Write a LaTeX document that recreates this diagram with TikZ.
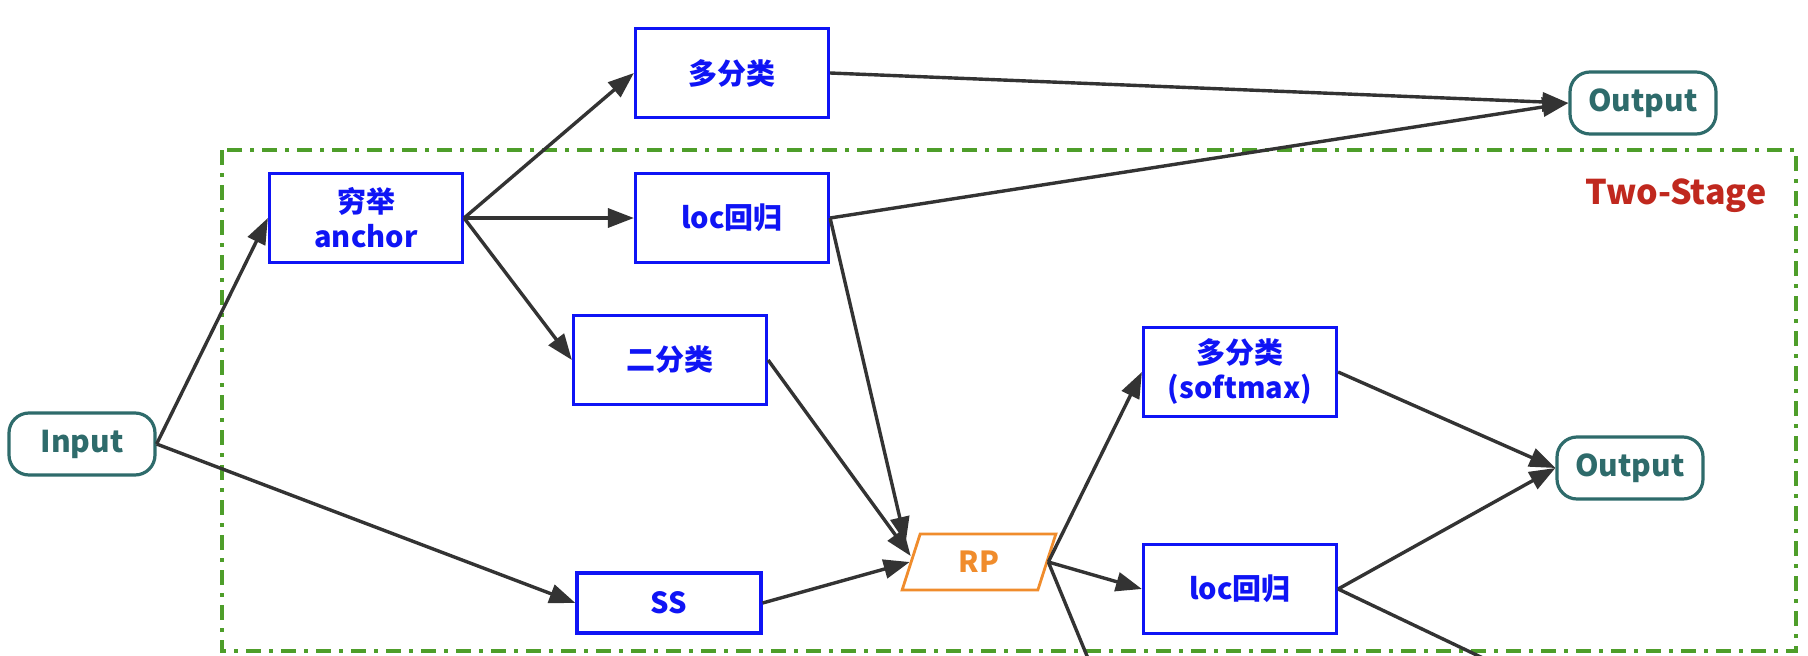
\documentclass[tikz,border=0pt]{standalone}
\usepackage{fontspec}
\setmainfont{Noto Sans CJK SC}
\usetikzlibrary{arrows.meta,shapes.geometric,calc}
\definecolor{boxblue}{HTML}{0F14F5}
\definecolor{ioteal}{HTML}{2E6B6B}
\definecolor{rporange}{HTML}{F08C2C}
\definecolor{stagered}{HTML}{C0281E}
\definecolor{dashgreen}{HTML}{4E9E2A}
\definecolor{arrowgray}{HTML}{333333}
\tikzset{
  bluebox/.style={draw=boxblue, line width=3.2pt, text=boxblue, font=\fontsize{29}{35}\selectfont\bfseries, align=center, minimum width=193pt, minimum height=89pt, inner sep=0pt},
  iobox/.style={draw=ioteal, line width=3.2pt, text=ioteal, rounded corners=20pt, font=\fontsize{30}{36}\selectfont\bfseries, minimum width=146pt, minimum height=62pt, inner sep=0pt},
  rpbox/.style={trapezium, trapezium left angle=74, trapezium right angle=106, trapezium stretches=true, draw=rporange, line width=2.8pt, text=rporange, font=\fontsize{29}{35}\selectfont\bfseries, minimum width=154pt, minimum height=56pt, inner sep=0pt},
  conn/.style={draw=arrowgray, line width=3.4pt, -{Triangle[length=26pt,width=19pt]}},
  plainconn/.style={draw=arrowgray, line width=3.4pt},
  stageframe/.style={draw=dashgreen, line width=3.2pt, dash pattern=on 15pt off 8pt on 4pt off 8pt}
}
\begin{document}
\begin{tikzpicture}[x=1pt,y=-1pt]
\clip (0,0) rectangle (1808,656);
\fill[white] (0,0) rectangle (1808,656);
\draw[stageframe] (222,150) rectangle (1796,651);
\node[text=stagered, font=\fontsize{34}{40}\selectfont\bfseries] (stage) at (1676,196) {Two-Stage};

\node[iobox] (input) at (82,444) {Input};
\node[iobox] (out1) at (1643,103) {Output};
\node[iobox] (out2) at (1630,468) {Output};

\node[bluebox] (anchor) at (366,218) {穷举\\anchor};
\node[bluebox] (multi1) at (732,73) {多分类};
\node[bluebox] (loc1) at (732,218) {loc回归};
\node[bluebox] (binary) at (670,360) {二分类};
\node[bluebox, minimum width=184pt, minimum height=60pt] (ss) at (669,603) {SS};
\node[rpbox] (rp) at (979,562) {RP};
\node[bluebox] (multi2) at (1240,372) {多分类\\(softmax)};
\node[bluebox] (loc2) at (1240,589) {loc回归};

\coordinate (rpdown) at (1101,690);
\coordinate (locdown) at (1550,690);

\draw[conn] (input.east) -- (anchor.west);
\draw[conn] (input.east) -- (ss.west);
\draw[conn] (anchor.east) -- (multi1.west);
\draw[conn] (anchor.east) -- (loc1.west);
\draw[conn] (anchor.east) -- (binary.west);
\draw[conn] (multi1.east) -- (out1.west);
\draw[conn] (loc1.east) -- (out1.west);
\draw[conn] (loc1.east) -- ($(rp.west)+(-4,-19)$);
\draw[conn] (binary.east) -- ($(rp.west)+(1,-6)$);
\draw[conn] (ss.east) -- (rp.west);
\draw[conn] (rp.east) -- (multi2.west);
\draw[conn] (rp.east) -- (loc2.west);
\draw[plainconn] (rp.east) -- (rpdown);
\draw[conn] (multi2.east) -- (out2.west);
\draw[conn] (loc2.east) -- (out2.west);
\draw[plainconn] (loc2.east) -- (locdown);
\end{tikzpicture}
\end{document}
